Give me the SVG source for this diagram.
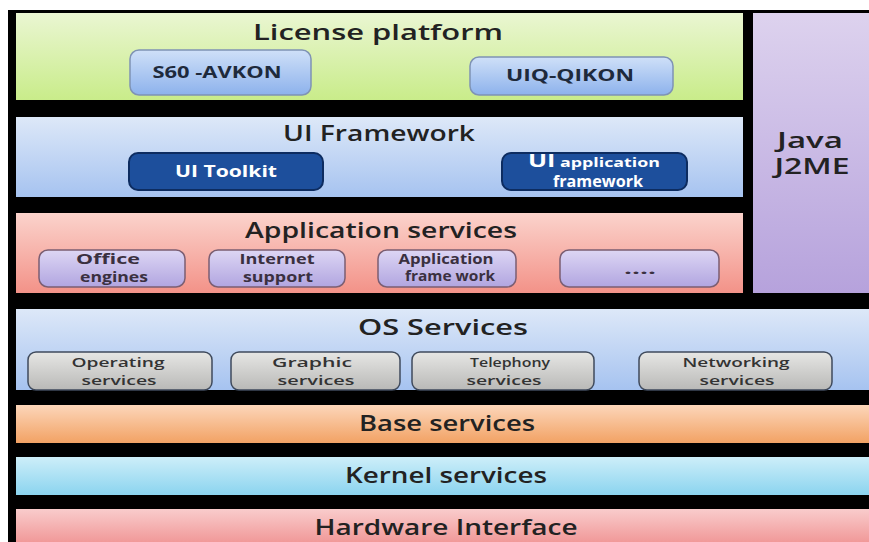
<svg xmlns="http://www.w3.org/2000/svg" width="869" height="542" viewBox="0 0 869 542">
<defs>
<linearGradient id="gGreen" x1="0" y1="0" x2="0" y2="1"><stop offset="0" stop-color="#eaf6d2"/><stop offset="1" stop-color="#c9ec8a"/></linearGradient>
<linearGradient id="gBlue" x1="0" y1="0" x2="0" y2="1"><stop offset="0" stop-color="#dde8f8"/><stop offset="1" stop-color="#a6c3f0"/></linearGradient>
<linearGradient id="gSalmon" x1="0" y1="0" x2="0" y2="1"><stop offset="0" stop-color="#fbd3cc"/><stop offset="1" stop-color="#f39288"/></linearGradient>
<linearGradient id="gPurple" x1="0" y1="0" x2="0" y2="1"><stop offset="0" stop-color="#ddd2ee"/><stop offset="1" stop-color="#b6a2dc"/></linearGradient>
<linearGradient id="gOrange" x1="0" y1="0" x2="0" y2="1"><stop offset="0" stop-color="#fcd6ba"/><stop offset="1" stop-color="#f2a264"/></linearGradient>
<linearGradient id="gCyan" x1="0" y1="0" x2="0" y2="1"><stop offset="0" stop-color="#cdeef9"/><stop offset="1" stop-color="#8bd4ef"/></linearGradient>
<linearGradient id="gPink" x1="0" y1="0" x2="0" y2="1"><stop offset="0" stop-color="#f9cccc"/><stop offset="1" stop-color="#ef8e8e"/></linearGradient>
<linearGradient id="gBtnBlue" x1="0" y1="0" x2="0" y2="1"><stop offset="0" stop-color="#cfe0f8"/><stop offset="1" stop-color="#8db2ec"/></linearGradient>
<linearGradient id="gBtnLav" x1="0" y1="0" x2="0" y2="1"><stop offset="0" stop-color="#ddd6f4"/><stop offset="1" stop-color="#b1a5e0"/></linearGradient>
<linearGradient id="gBtnGray" x1="0" y1="0" x2="0" y2="1"><stop offset="0" stop-color="#e6e6e4"/><stop offset="1" stop-color="#b9b9b7"/></linearGradient>
</defs>
<style>
text{font-family:"Open Sans","Liberation Sans",sans-serif;text-anchor:middle}
.title{font-weight:600;font-size:21px;fill:#222}
.lbl{font-weight:700;font-size:16px;fill:#1e2a3c}
.sm{font-weight:700;font-size:14px;fill:#3a3040}
.os{font-weight:600;font-size:13px;fill:#333}
.wt{fill:#fff}
.btnBlue{fill:url(#gBtnBlue);stroke:#7f93b4;stroke-width:1.5}
.btnDark{fill:#1d4f9c;stroke:#0d2c60;stroke-width:2}
.btnLav{fill:url(#gBtnLav);stroke:#7b5e72;stroke-width:1.5}
.btnGray{fill:url(#gBtnGray);stroke:#3f4a5c;stroke-width:1.5}
</style>
<rect x="0" y="0" width="869" height="542" fill="#fff"/>
<rect x="8" y="10" width="861" height="532" fill="#000"/>

<g id="license-platform">
<rect x="16" y="13" width="727" height="87" fill="url(#gGreen)"/>
<text class="title" x="378" y="40" textLength="250" lengthAdjust="spacingAndGlyphs">License platform</text>
</g>
<g id="s60-avkon">
<rect class="btnBlue" x="130" y="50" width="181" height="45" rx="9"/>
<text class="lbl" x="217" y="78" textLength="129" lengthAdjust="spacingAndGlyphs">S60 -AVKON</text>
</g>
<g id="uiq-qikon">
<rect class="btnBlue" x="470" y="57" width="203" height="38" rx="9"/>
<text class="lbl" x="570" y="81" textLength="128" lengthAdjust="spacingAndGlyphs">UIQ-QIKON</text>
</g>

<g id="java-j2me">
<rect x="753" y="13" width="116" height="280" fill="url(#gPurple)"/>
<text class="title" x="810" y="148" textLength="66" lengthAdjust="spacingAndGlyphs">Java</text>
<text class="title" x="812" y="174" textLength="75" lengthAdjust="spacingAndGlyphs">J2ME</text>
</g>

<g id="ui-framework">
<rect x="16" y="117" width="727" height="80" fill="url(#gBlue)"/>
<text class="title" x="379" y="141" textLength="192" lengthAdjust="spacingAndGlyphs">UI Framework</text>
</g>
<g id="ui-toolkit">
<rect class="btnDark" x="129" y="153" width="194" height="37" rx="9"/>
<text class="lbl wt" x="226" y="177" textLength="102" lengthAdjust="spacingAndGlyphs">UI Toolkit</text>
</g>
<g id="ui-application-framework">
<rect class="btnDark" x="502" y="153" width="185" height="37" rx="9"/>
<text class="lbl wt" x="594" y="167" textLength="132" lengthAdjust="spacingAndGlyphs"><tspan font-size="17">UI</tspan><tspan font-size="12"> application</tspan></text>
<text class="lbl wt" x="598" y="187" font-size="12" textLength="90" lengthAdjust="spacingAndGlyphs">framework</text>
</g>

<g id="application-services">
<rect x="16" y="213" width="727" height="80" fill="url(#gSalmon)"/>
<text class="title" x="381" y="238" textLength="272" lengthAdjust="spacingAndGlyphs">Application services</text>
</g>
<g id="office-engines">
<rect class="btnLav" x="39" y="250" width="146" height="37" rx="9"/>
<text class="sm" x="108" y="264" textLength="64" lengthAdjust="spacingAndGlyphs">Office</text>
<text class="sm" x="114" y="282" textLength="68" lengthAdjust="spacingAndGlyphs">engines</text>
</g>
<g id="internet-support">
<rect class="btnLav" x="209" y="250" width="136" height="37" rx="9"/>
<text class="sm" x="277" y="264" textLength="75" lengthAdjust="spacingAndGlyphs">Internet</text>
<text class="sm" x="278" y="282" textLength="70" lengthAdjust="spacingAndGlyphs">support</text>
</g>
<g id="application-framework">
<rect class="btnLav" x="378" y="250" width="138" height="37" rx="9"/>
<text class="sm" x="446" y="264" textLength="95" lengthAdjust="spacingAndGlyphs">Application</text>
<text class="sm" x="450" y="281" textLength="90" lengthAdjust="spacingAndGlyphs">frame work</text>
</g>
<g id="more-services">
<rect class="btnLav" x="560" y="250" width="159" height="37" rx="9"/>
<text class="sm" x="640" y="274" textLength="32" lengthAdjust="spacingAndGlyphs">....</text>
</g>

<g id="os-services">
<rect x="16" y="309" width="853" height="81" fill="url(#gBlue)"/>
<text class="title" x="443" y="335" textLength="170" lengthAdjust="spacingAndGlyphs">OS  Services</text>
</g>
<g id="operating-services">
<rect class="btnGray" x="28" y="352" width="184" height="38" rx="8"/>
<text class="os" x="118" y="367" textLength="93" lengthAdjust="spacingAndGlyphs">Operating</text>
<text class="os" x="119" y="385" textLength="75" lengthAdjust="spacingAndGlyphs">services</text>
</g>
<g id="graphic-services">
<rect class="btnGray" x="231" y="352" width="169" height="38" rx="8"/>
<text class="os" x="312" y="367" textLength="80" lengthAdjust="spacingAndGlyphs">Graphic</text>
<text class="os" x="316" y="385" textLength="77" lengthAdjust="spacingAndGlyphs">services</text>
</g>
<g id="telephony-services">
<rect class="btnGray" x="412" y="352" width="182" height="38" rx="8"/>
<text class="os" x="510" y="367" textLength="80" lengthAdjust="spacingAndGlyphs">Telephony</text>
<text class="os" x="504" y="385" textLength="75" lengthAdjust="spacingAndGlyphs">services</text>
</g>
<g id="networking-services">
<rect class="btnGray" x="639" y="352" width="193" height="38" rx="8"/>
<text class="os" x="736" y="367" textLength="107" lengthAdjust="spacingAndGlyphs">Networking</text>
<text class="os" x="737" y="385" textLength="75" lengthAdjust="spacingAndGlyphs">services</text>
</g>

<g id="base-services">
<rect x="16" y="405" width="853" height="38" fill="url(#gOrange)"/>
<text class="title" x="447" y="431" textLength="176" lengthAdjust="spacingAndGlyphs">Base services</text>
</g>
<g id="kernel-services">
<rect x="16" y="457" width="853" height="38" fill="url(#gCyan)"/>
<text class="title" x="446" y="483" textLength="202" lengthAdjust="spacingAndGlyphs">Kernel services</text>
</g>
<g id="hardware-interface">
<rect x="16" y="509" width="853" height="40" fill="url(#gPink)"/>
<text class="title" x="446" y="535" textLength="263" lengthAdjust="spacingAndGlyphs">Hardware Interface</text>
</g>
</svg>
